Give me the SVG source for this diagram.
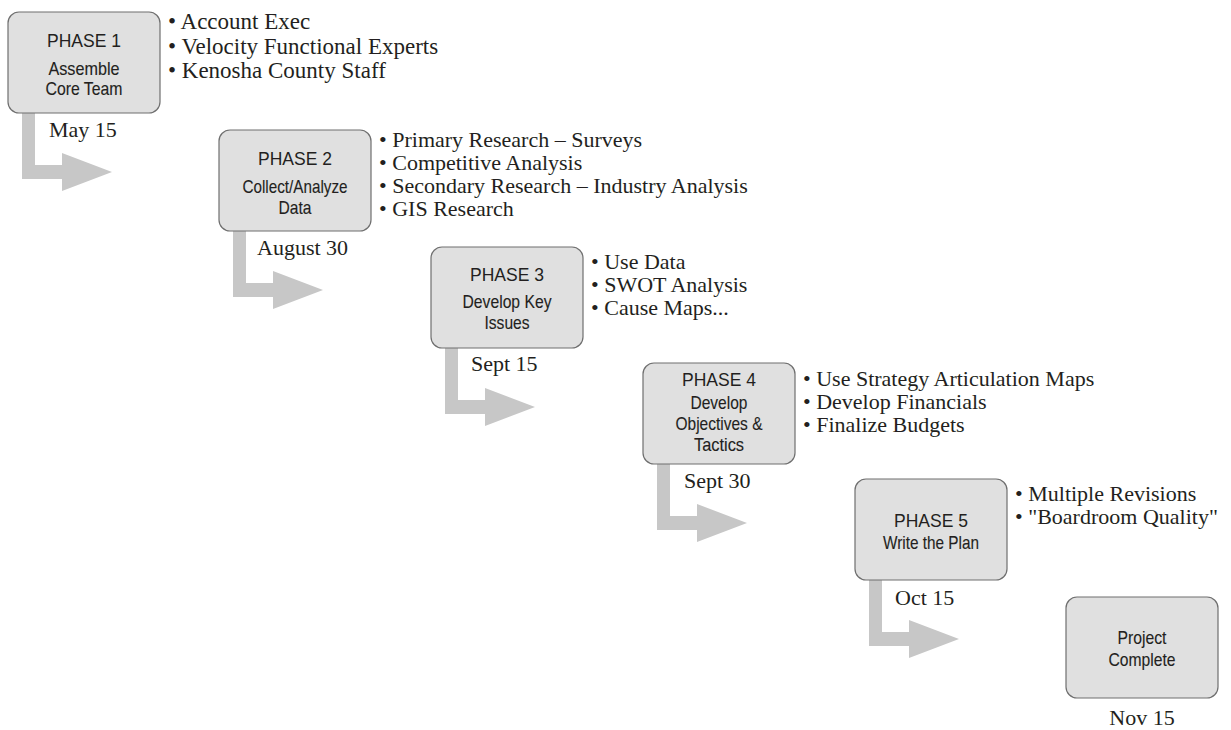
<svg xmlns="http://www.w3.org/2000/svg" xmlns:xlink="http://www.w3.org/1999/xlink" width="1231" height="730" viewBox="0 0 1231 730">
<style>
.box{fill:#e0e0e0;stroke:#6f6f6f;stroke-width:1.2}
.ph{font-family:"Liberation Sans",Arial,sans-serif;font-size:17.5px;fill:#231f20;text-anchor:middle}
.sub{font-family:"Liberation Sans",Arial,sans-serif;font-size:19px;fill:#231f20;stroke:#231f20;stroke-width:0.12;text-anchor:middle}
.bl{font-family:"Liberation Serif","Times New Roman",serif;font-size:22px;fill:#231f20}
.bl1{font-family:"Liberation Serif","Times New Roman",serif;font-size:23px;fill:#231f20}
.dt{font-family:"Liberation Serif","Times New Roman",serif;font-size:22px;fill:#231f20}
.arr{fill:#c7c7c7}
</style>
<defs>
<path id="arrow" class="arr" d="M14,0 L27,0 L27,52 L54,52 L54,40 L104,59 L54,78 L54,66 L14,66 Z"/>
</defs>
<g id="connectors">
<use xlink:href="#arrow" href="#arrow" x="8" y="113"/>
<use xlink:href="#arrow" href="#arrow" x="219" y="231"/>
<use xlink:href="#arrow" href="#arrow" x="431" y="348"/>
<use xlink:href="#arrow" href="#arrow" x="643" y="464"/>
<use xlink:href="#arrow" href="#arrow" x="855" y="580"/>
</g>
<g id="phase1">
<rect class="box" x="8" y="12" width="152" height="101" rx="11"/>
<text class="ph" x="84" y="47">PHASE 1</text>
<text class="sub" x="84" y="75" textLength="71" lengthAdjust="spacingAndGlyphs">Assemble</text>
<text class="sub" x="84" y="95" textLength="77" lengthAdjust="spacingAndGlyphs">Core Team</text>
<text class="bl1" x="168" y="29">• Account Exec</text>
<text class="bl1" x="168" y="54">• Velocity Functional Experts</text>
<text class="bl1" x="168" y="78">• Kenosha County Staff</text>
<text class="dt" x="49" y="137">May 15</text>
</g>
<g id="phase2">
<rect class="box" x="219" y="130" width="152" height="101" rx="11"/>
<text class="ph" x="295" y="165">PHASE 2</text>
<text class="sub" x="295" y="193" textLength="105" lengthAdjust="spacingAndGlyphs">Collect/Analyze</text>
<text class="sub" x="295" y="214" textLength="33" lengthAdjust="spacingAndGlyphs">Data</text>
<text class="bl" x="379" y="147">• Primary Research – Surveys</text>
<text class="bl" x="379" y="170">• Competitive Analysis</text>
<text class="bl" x="379" y="193">• Secondary Research – Industry Analysis</text>
<text class="bl" x="379" y="216">• GIS Research</text>
<text class="dt" x="257" y="255">August 30</text>
</g>
<g id="phase3">
<rect class="box" x="431" y="247" width="152" height="101" rx="11"/>
<text class="ph" x="507" y="281">PHASE 3</text>
<text class="sub" x="507" y="308" textLength="89" lengthAdjust="spacingAndGlyphs">Develop Key</text>
<text class="sub" x="507" y="329" textLength="45" lengthAdjust="spacingAndGlyphs">Issues</text>
<text class="bl" x="591" y="269">• Use Data</text>
<text class="bl" x="591" y="292">• SWOT Analysis</text>
<text class="bl" x="591" y="315">• Cause Maps...</text>
<text class="dt" x="471" y="371">Sept 15</text>
</g>
<g id="phase4">
<rect class="box" x="643" y="363" width="152" height="101" rx="11"/>
<text class="ph" x="719" y="386">PHASE 4</text>
<text class="sub" x="719" y="409" textLength="57" lengthAdjust="spacingAndGlyphs">Develop</text>
<text class="sub" x="719" y="430" textLength="87" lengthAdjust="spacingAndGlyphs">Objectives &amp;</text>
<text class="sub" x="719" y="451" textLength="50" lengthAdjust="spacingAndGlyphs">Tactics</text>
<text class="bl" x="803" y="386">• Use Strategy Articulation Maps</text>
<text class="bl" x="803" y="409">• Develop Financials</text>
<text class="bl" x="803" y="432">• Finalize Budgets</text>
<text class="dt" x="684" y="488">Sept 30</text>
</g>
<g id="phase5">
<rect class="box" x="855" y="479" width="152" height="101" rx="11"/>
<text class="ph" x="931" y="527">PHASE 5</text>
<text class="sub" x="931" y="549" textLength="96" lengthAdjust="spacingAndGlyphs">Write the Plan</text>
<text class="bl" x="1015" y="501">• Multiple Revisions</text>
<text class="bl" x="1015" y="524">• "Boardroom Quality"</text>
<text class="dt" x="895" y="605">Oct 15</text>
</g>
<g id="complete">
<rect class="box" x="1066" y="597" width="152" height="101" rx="11"/>
<text class="sub" x="1142" y="644" textLength="49" lengthAdjust="spacingAndGlyphs">Project</text>
<text class="sub" x="1142" y="666" textLength="67" lengthAdjust="spacingAndGlyphs">Complete</text>
<text class="dt" x="1142" y="725" text-anchor="middle">Nov 15</text>
</g>
</svg>
